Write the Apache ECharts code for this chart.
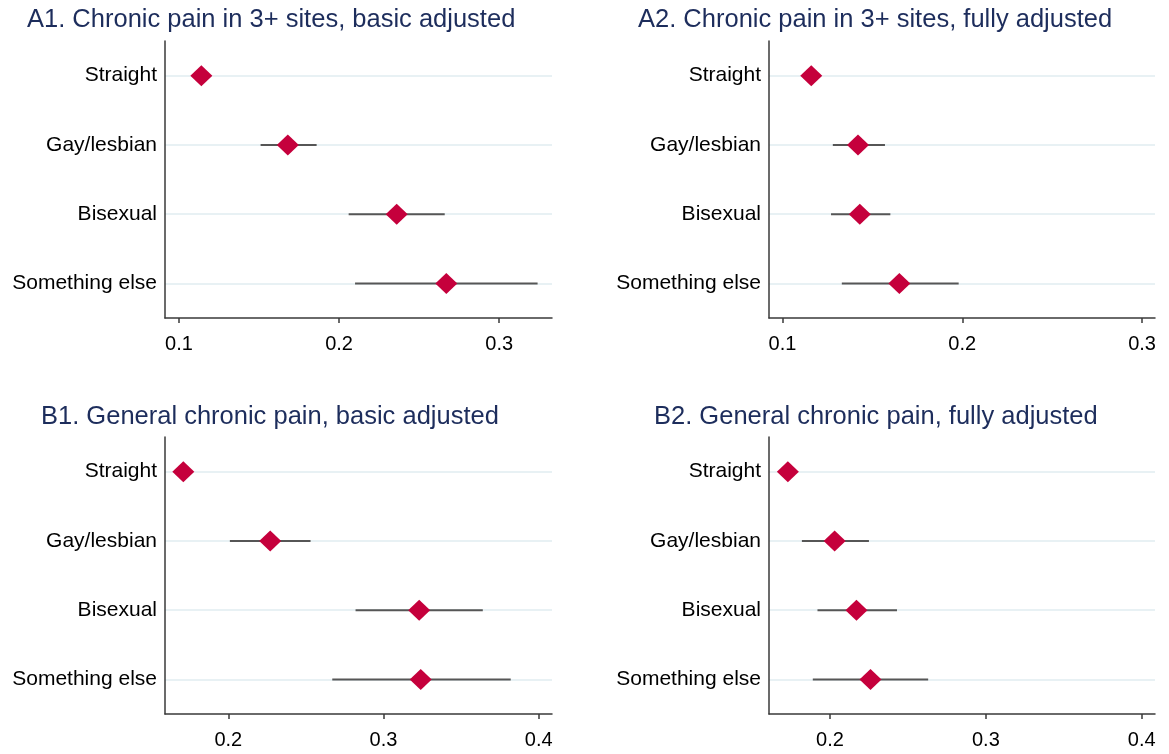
<!DOCTYPE html>
<html>
<head>
<meta charset="utf-8">
<title>Chronic pain by sexual orientation</title>
<script src="https://cdn.jsdelivr.net/npm/echarts@6/dist/echarts.min.js"></script>
<style>
    html, body { margin: 0; padding: 0; background: #fff; }
    #chart { width: 1169px; height: 754px; }
</style>
</head>
<body>
<div id="chart"></div>
<script>
const groups = ['Straight', 'Gay/lesbian', 'Bisexual', 'Something else'];

// A1. chronic pain in 3+ sites, basic adjusted
const a1Est = [0.114, 0.168, 0.236, 0.267];
const a1Lo = [0.112, 0.151, 0.206, 0.210];
const a1Hi = [0.117, 0.186, 0.266, 0.324];

// A2. chronic pain in 3+ sites, fully adjusted
const a2Est = [0.116, 0.142, 0.143, 0.165];
const a2Lo = [0.114, 0.128, 0.127, 0.133];
const a2Hi = [0.118, 0.157, 0.160, 0.198];

// B1. general chronic pain, basic adjusted
const b1Est = [0.171, 0.227, 0.323, 0.324];
const b1Lo = [0.168, 0.201, 0.282, 0.267];
const b1Hi = [0.173, 0.253, 0.364, 0.382];

// B2. general chronic pain, fully adjusted
const b2Est = [0.173, 0.203, 0.217, 0.226];
const b2Lo = [0.170, 0.182, 0.192, 0.189];
const b2Hi = [0.176, 0.225, 0.243, 0.263];

const ticksA = [0.1, 0.2, 0.3];
const ticksB = [0.2, 0.3, 0.4];

const panels = [
    {title: 'A1. Chronic pain in 3+ sites, basic adjusted', est: a1Est, lo: a1Lo, hi: a1Hi, ticks: ticksA, min: 0.0913, max: 0.333},
    {title: 'A2. Chronic pain in 3+ sites, fully adjusted', est: a2Est, lo: a2Lo, hi: a2Hi, ticks: ticksA, min: 0.0925, max: 0.3072},
    {title: 'B1. General chronic pain, basic adjusted', est: b1Est, lo: b1Lo, hi: b1Hi, ticks: ticksB, min: 0.1592, max: 0.4086},
    {title: 'B2. General chronic pain, fully adjusted', est: b2Est, lo: b2Lo, hi: b2Hi, ticks: ticksB, min: 0.1609, max: 0.4085}
];

// plot boxes and title placement (pixels)
const boxes = [
    {left: 165, top: 41, width: 387, height: 277, titleX: 27, titleY: 7},
    {left: 769, top: 41, width: 386, height: 277, titleX: 638, titleY: 7},
    {left: 165, top: 437, width: 387, height: 277, titleX: 41, titleY: 404},
    {left: 769, top: 437, width: 386, height: 277, titleX: 654, titleY: 404}
];

const font = 'Liberation Sans, Arial, sans-serif';
const idx = groups.map((g, i) => i);

let myChart = echarts.init(document.getElementById('chart'));

let option = {
    animation: false,
    backgroundColor: '#fff',
    title: panels.map((p, i) => ({
        text: p.title,
        left: boxes[i].titleX,
        top: boxes[i].titleY,
        padding: 0,
        textStyle: {
            color: '#1d2d5c',
            fontFamily: font,
            fontWeight: 'normal',
            fontSize: 25.5
        }
    })),
    grid: boxes.map(b => ({
        left: b.left,
        top: b.top,
        width: b.width,
        height: b.height,
        containLabel: false
    })),
    xAxis: panels.map((p, i) => ({
        type: 'value',
        gridIndex: i,
        min: p.min,
        max: p.max,
        axisLine: {
            show: true,
            onZero: false,
            lineStyle: {color: '#3a3a3a', width: 1.5}
        },
        axisTick: {
            show: true,
            length: 5,
            customValues: p.ticks,
            lineStyle: {color: '#3a3a3a', width: 1.5}
        },
        axisLabel: {
            customValues: p.ticks,
            formatter: v => v.toFixed(1),
            color: '#000',
            fontFamily: font,
            fontSize: 20,
            margin: 16
        },
        splitLine: {show: false}
    })),
    yAxis: panels.map((p, i) => ({
        type: 'value',
        gridIndex: i,
        inverse: true,
        min: -0.5,
        max: 3.5,
        axisLine: {
            show: true,
            onZero: false,
            lineStyle: {color: '#3a3a3a', width: 1.5}
        },
        axisTick: {
            show: false,
            customValues: idx
        },
        axisLabel: {
            customValues: idx,
            formatter: v => groups[Math.round(v)],
            color: '#000',
            fontFamily: font,
            fontSize: 21,
            margin: 8
        },
        splitLine: {
            show: true,
            lineStyle: {color: '#e0ecf1', width: 1.5}
        }
    })),
    series: []
};

panels.forEach((p, i) => {
    option.series.push({
        type: 'custom',
        xAxisIndex: i,
        yAxisIndex: i,
        encode: {x: [0, 1], y: 2},
        data: groups.map((g, k) => [p.lo[k], p.hi[k], k]),
        renderItem: (params, api) => {
            let a = api.coord([api.value(0), api.value(2)]);
            let b = api.coord([api.value(1), api.value(2)]);
            return {
                type: 'line',
                shape: {x1: a[0], y1: a[1], x2: b[0], y2: b[1]},
                style: {stroke: '#565656', lineWidth: 2}
            };
        },
        z: 2
    });
    option.series.push({
        type: 'scatter',
        xAxisIndex: i,
        yAxisIndex: i,
        symbol: 'diamond',
        symbolSize: [22, 21],
        itemStyle: {color: '#c5003c', opacity: 1},
        data: groups.map((g, k) => [p.est[k], k]),
        z: 3
    });
});

myChart.setOption(option);
</script>
</body>
</html>
